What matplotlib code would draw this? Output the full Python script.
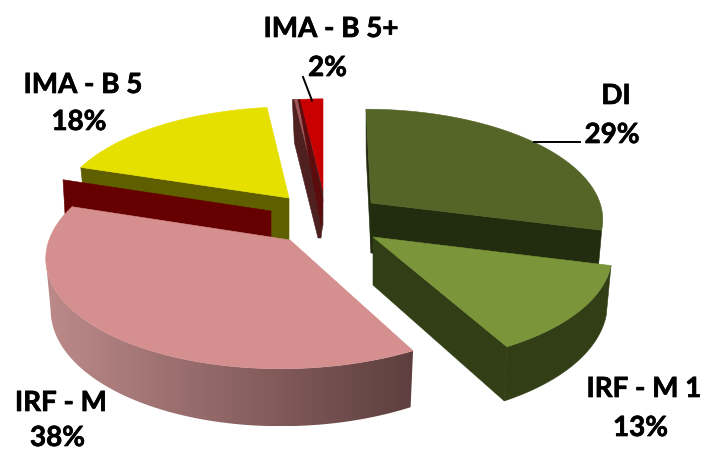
import numpy as np
import matplotlib
matplotlib.use("Agg")
import matplotlib.pyplot as plt
import matplotlib.patheffects as pe
from matplotlib.patches import Polygon

plt.rcParams["font.family"] = "Lato"
plt.rcParams["font.weight"] = "bold"

# Shares, clockwise from twelve o'clock
names = ["DI", "IRF - M 1", "IRF - M", "IMA - B 5", "IMA - B 5+"]
shares = [29, 13, 38, 18, 2]

PERSP = 0.13
TAPER = 0.02
STEPS = 60

# apex x, apex y, radius x, radius y, shear, depth
geom = {
    "DI": (371, 203, 229, 106, -0.053, 50),
    "IRF - M 1": (373, 237, 236.4, 111, -0.049, 48),
    "IRF - M": (290, 240, 241, 112, 0.072, 50),
    "IMA - B 5": (289, 198, 229, 103, 0.038, 43),
    "IMA - B 5+": (323, 190, 204, 103, 0.0, 48),
}

edges = np.cumsum([0] + shares) * 3.6
spans = {n: (edges[i], edges[i + 1]) for i, n in enumerate(names)}


def project(name, theta, z=0.0):
    cx, cy, a, b, k, d = geom[name]
    t = np.radians(theta)
    u, v = np.sin(t), np.cos(t)
    w = 1 + PERSP * v
    y = b * v / w
    x = a * u / w + k * y
    return cx + x * (1 - TAPER * z), cy - y + z * d / w


def arc(name, z=0.0):
    t0, t1 = spans[name]
    th = np.linspace(t0, t1, STEPS)
    x, y = project(name, th, z)
    return np.column_stack([x, y])


def apex(name, z=0.0):
    cx, cy, _, _, _, d = geom[name]
    return np.array([cx, cy + z * d])


def top_face(name):
    return np.vstack([apex(name), arc(name)])


def radial_face(name, theta):
    p = np.array(project(name, theta))
    q = np.array(project(name, theta, 1))
    return np.array([apex(name), p, q, apex(name, 1)])


def outer_wall(name):
    return np.vstack([arc(name), arc(name, 1)[::-1]])


def poly(ax, pts, color, z):
    return ax.add_patch(Polygon(pts, closed=True, facecolor=color, edgecolor=color,
                                linewidth=0.4, zorder=z))


fig = plt.figure(figsize=(7.03, 4.51), dpi=100)
ax = fig.add_axes([0, 0, 1, 1])

# small red slice
t0, t1 = spans["IMA - B 5+"]
left = np.array(project("IMA - B 5+", t0))
tip = apex("IMA - B 5+")
poly(ax, [left + [-8, 0], left + [-6, 43], tip + [-5, 48], tip + [-2, 48], tip + [-1, 40],
          tip + [0, 35], tip, left], "#4f2020", 1)
poly(ax, [left + [-6, 0], left + [-3, 0], tip + [-4, 2], tip + [-5, 3]], "#a05858", 2)
poly(ax, [left, left + [-2, 0], tip + [-2, 35], tip + [0, 10]], "#5c0c0c", 2)
poly(ax, top_face("IMA - B 5+"), "#c80000", 3)

# yellow slice
t0, t1 = spans["IMA - B 5"]
poly(ax, radial_face("IMA - B 5", t0), "#5f5f00", 4)
poly(ax, top_face("IMA - B 5"), "#e5e000", 5)

# DI slice, its walls sit behind the lighter green one
t0, t1 = spans["DI"]
poly(ax, radial_face("DI", t0), "#222c0e", 6)
poly(ax, radial_face("DI", t1), "#222c0e", 6)
poly(ax, top_face("DI"), "#556427", 7)

# IRF - M 1
t0, t1 = spans["IRF - M 1"]
poly(ax, radial_face("IRF - M 1", t1), "#323e15", 8)
poly(ax, outer_wall("IRF - M 1"), "#323e15", 8)
poly(ax, top_face("IRF - M 1"), "#7a953a", 9)

# IRF - M: dark wall above the back edge, shaded rim, then the face
t0, t1 = spans["IRF - M"]
corner = np.array(project("IRF - M", t1))
tip = apex("IRF - M")
poly(ax, [corner + [-9, -27], tip + [-19, -29], tip + [-19, -3], corner + [-7, 8]], "#660000", 10)

# the rim starts at the leftmost point of the face so its outline stays straight there
th = np.linspace(t1, t0, 160)
x0, y0 = project("IRF - M", th)
start = x0.argmin()
x1, y1 = project("IRF - M", th[start:], 1)
rim = np.vstack([np.column_stack([x0[start:], y0[start:]]), np.column_stack([x1, y1])[::-1]])
clip = Polygon(rim, closed=True, facecolor="none", edgecolor="none", zorder=11)
ax.add_patch(clip)
c0 = np.array(matplotlib.colors.to_rgb("#bd8a8a"))
c1 = np.array(matplotlib.colors.to_rgb("#5e3e3e"))
ramp = np.linspace(0, 1, 256)[None, :, None]
shade = c0[None, None, :] + (c1 - c0)[None, None, :] * ramp
im = ax.imshow(shade, extent=(rim[:, 0].min(), rim[:, 0].max(), rim[:, 1].max(), rim[:, 1].min()),
               aspect="auto", zorder=11)
im.set_clip_path(clip)
poly(ax, top_face("IRF - M"), "#d58f8f", 12)

ax.set_xlim(0, 703)
ax.set_ylim(451, 0)
ax.axis("off")

# leader lines
ax.plot([534, 580], [142, 142], color="black", lw=1.4, zorder=13)
ax.plot([303, 312], [77, 100.5], color="black", lw=1.4, zorder=13)

# labels: name centre x and baseline, percent centre x and baseline
label_pos = {
    "DI": ((616, 104), (612, 143)),
    "IRF - M 1": ((644, 397), (640.5, 436)),
    "IRF - M": ((61, 411), (57.5, 446)),
    "IMA - B 5": ((83, 93), (79, 130)),
    "IMA - B 5+": ((331, 37), (327.5, 76)),
}
thick = [pe.withStroke(linewidth=0.5, foreground="black")]
for n, s in zip(names, shares):
    (tx0, ty0), (tx1, ty1) = label_pos[n]
    ax.text(tx0, ty0, n, ha="center", va="baseline", fontsize=20, color="black",
            zorder=14, path_effects=thick)
    ax.text(tx1, ty1, f"{s}%", ha="center", va="baseline", fontsize=20, color="black",
            zorder=14, path_effects=thick)

fig.savefig("out.png", dpi=100)
